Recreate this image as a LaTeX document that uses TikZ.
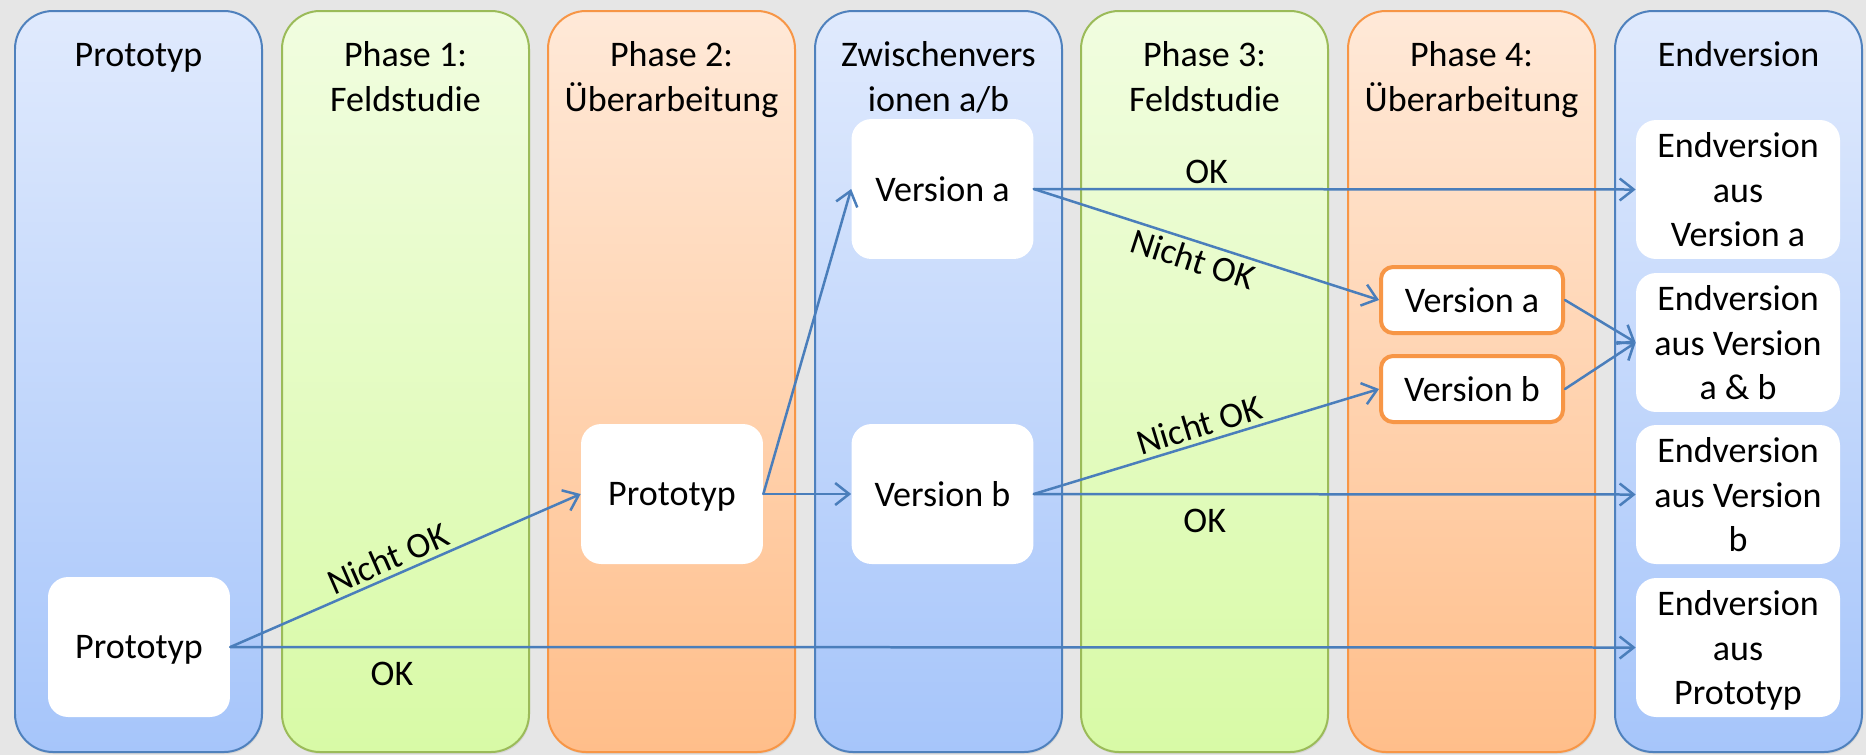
\documentclass[tikz,border=0pt]{standalone}
\usepackage{fontspec}
\setmainfont{Carlito}
\usetikzlibrary{arrows.meta,shadows}
\definecolor{bggray}{RGB}{230,230,230}
\definecolor{blueline}{RGB}{79,129,189}
\definecolor{bluetop}{RGB}{224,234,253}
\definecolor{bluebot}{RGB}{166,197,250}
\definecolor{greenline}{RGB}{155,187,89}
\definecolor{greentop}{RGB}{241,253,224}
\definecolor{greenbot}{RGB}{216,250,166}
\definecolor{orangeline}{RGB}{247,150,70}
\definecolor{orangetop}{RGB}{255,233,216}
\definecolor{orangebot}{RGB}{255,190,138}
\definecolor{arrowblue}{RGB}{74,126,187}
\tikzset{
	col/.style={line width=0.04cm, rounded corners=0.76cm, drop shadow={shadow xshift=0.02cm, shadow yshift=-0.04cm, opacity=0.15}},
	bluecol/.style={col, draw=blueline, top color=bluetop, bottom color=bluebot},
	greencol/.style={col, draw=greenline, top color=greentop, bottom color=greenbot},
	orangecol/.style={col, draw=orangeline, top color=orangetop, bottom color=orangebot},
	head/.style={anchor=north, inner sep=0pt, align=center},
	box/.style={fill=white, rounded corners=0.4cm, minimum width=3.64cm, minimum height=2.8cm, align=center, text depth=0pt},
	endbox/.style={box, minimum width=4.08cm, minimum height=2.78cm},
	revbox/.style={box, draw=orangeline, line width=0.08cm, rounded corners=0.24cm, minimum height=1.32cm},
	conn/.style={->, draw=arrowblue, line width=0.05cm},
	lbl/.style={inner sep=0.08cm}
}
\begin{document}
\begin{tikzpicture}[x=0.02cm, y=-0.02cm, font=\fontsize{20.5}{25.6}\selectfont, line cap=round, line join=round, >={Straight Barb[length=0.28cm, width=0.44cm]}]
	\useasboundingbox (0,0) rectangle (1866,755);
	\fill[bggray] (0,0) rectangle (1866,755);
	% columns
	\draw[bluecol] (15,11) rectangle (262,752);
	\draw[greencol] (282,11) rectangle (529,752);
	\draw[orangecol] (548,11) rectangle (795,752);
	\draw[bluecol] (815,11) rectangle (1062,752);
	\draw[greencol] (1081,11) rectangle (1328,752);
	\draw[orangecol] (1348,11) rectangle (1595,752);
	\draw[bluecol] (1615,11) rectangle (1862,752);
	% headers
	\node[head] (hproto) at (138.5,35) {\strut Prototyp};
	\node[head] (hphase1) at (405.5,35) {\strut Phase 1:\\Feldstudie};
	\node[head] (hphase2) at (671.5,35) {\strut Phase 2:\\Überarbeitung};
	\node[head] (hzw) at (938.5,35) {\strut Zwischenvers\\ionen a/b};
	\node[head] (hphase3) at (1204.5,35) {\strut Phase 3:\\Feldstudie};
	\node[head] (hphase4) at (1471.5,35) {\strut Phase 4:\\Überarbeitung};
	\node[head] (hend) at (1738.5,35) {\strut Endversion};
	% boxes
	\node[box] (proto1) at (139,647) {Prototyp};
	\node[box] (proto2) at (672,494) {Prototyp};
	\node[box] (vera) at (942.5,189) {Version a};
	\node[box] (verb) at (942.5,494) {Version b};
	\node[revbox] (vera4) at (1472,300) {Version a};
	\node[revbox] (verb4) at (1472,389) {Version b};
	\node[endbox] (end1) at (1738,189.5) {Endversion\\aus\\Version a};
	\node[endbox] (end2) at (1738,342.5) {Endversion\\aus Version\\a \& b};
	\node[endbox] (end3) at (1738,494.5) {Endversion\\aus Version\\b};
	\node[endbox] (end4) at (1738,647.5) {Endversion\\aus\\Prototyp};
	% connectors
	\draw[conn] (proto1.east) -- node[pos=0.47, above, sloped, lbl] {Nicht OK} (proto2.west);
	\draw[conn] (proto1.east) -- node[pos=0.115, below=0.2cm, lbl] {OK} (end4.west);
	\draw[conn] (proto2.east) -- (vera.west);
	\draw[conn] (proto2.east) -- (verb.west);
	\draw[conn] (vera.east) -- node[pos=0.287, above, lbl] {OK} (end1.west);
	\draw[conn] (vera.east) -- node[pos=0.477, below, sloped, lbl] {Nicht OK} (vera4.west);
	\draw[conn] (verb.east) -- node[pos=0.494, above, sloped, lbl] {Nicht OK} (verb4.west);
	\draw[conn] (verb.east) -- node[pos=0.284, below=0.2cm, lbl] {OK} (end3.west);
	\draw[conn] (vera4.east) -- (end2.west);
	\draw[conn] (verb4.east) -- (end2.west);
\end{tikzpicture}
\end{document}
